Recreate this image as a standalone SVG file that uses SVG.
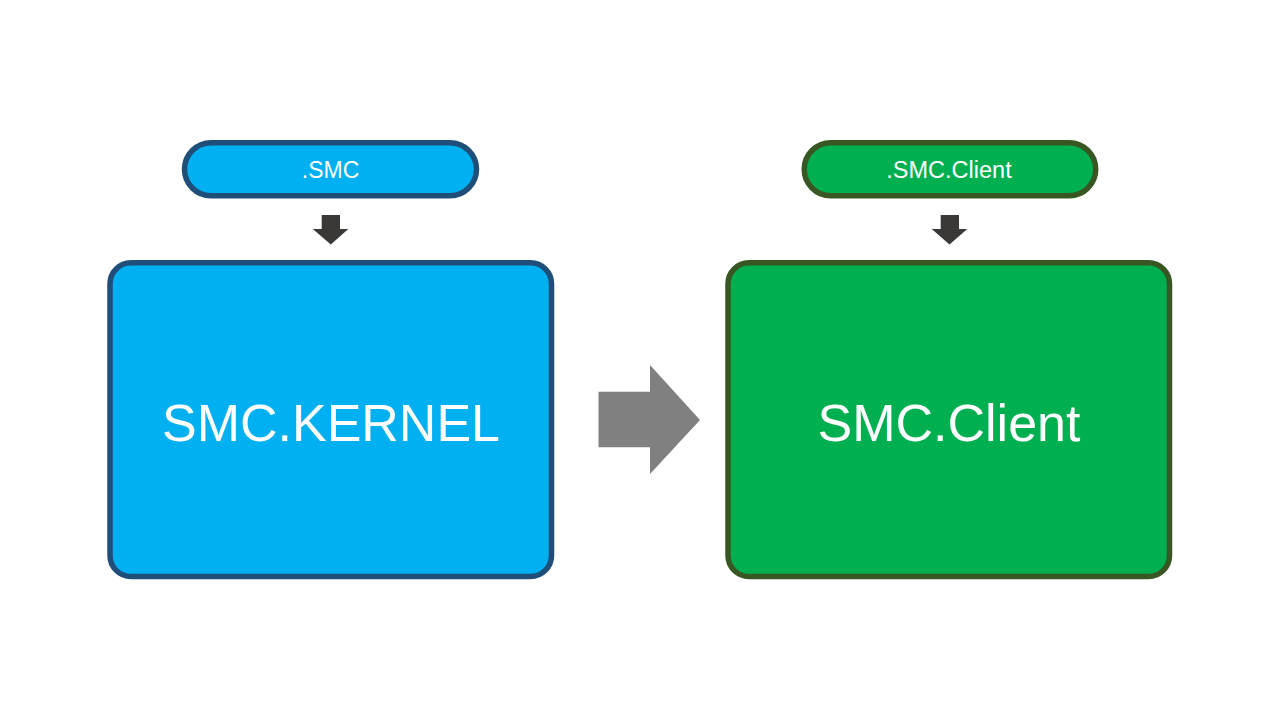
<svg xmlns="http://www.w3.org/2000/svg" width="1280" height="720" viewBox="0 0 1280 720">
<style>
.txt{font-family:"Liberation Sans",Arial,sans-serif;fill:#ffffff;text-anchor:middle}
.blue{fill:#00B0F0;stroke:#1F4E79;stroke-width:5.5}
.green{fill:#00B050;stroke:#385723;stroke-width:5.5}
.down{fill:#3B3838}
</style>
<rect width="1280" height="720" fill="#ffffff"/>
<g id="smc-tag">
<rect class="blue" x="184.5" y="142.7" width="292" height="53" rx="26.5"/>
<text class="txt" x="330.5" y="178.3" font-size="23">.SMC</text>
</g>
<g id="smc-kernel">
<rect class="blue" x="110" y="262.8" width="441.5" height="313.7" rx="21"/>
<text class="txt" x="331" y="440.7" font-size="52">SMC.KERNEL</text>
</g>
<g id="client-tag">
<rect class="green" x="804.2" y="142.7" width="291.5" height="53" rx="26.5"/>
<text class="txt" x="949" y="178.3" font-size="23.5">.SMC.Client</text>
</g>
<g id="smc-client">
<rect class="green" x="728" y="262.8" width="441.5" height="313.7" rx="21"/>
<text class="txt" x="949" y="440.7" font-size="52">SMC.Client</text>
</g>
<g id="connectors">
<polygon class="down" points="321.7,215 340,215 340,229 348.3,229 330.8,244.5 312.8,229 321.7,229"/>
<polygon class="down" points="940.7,215 959,215 959,229 967.3,229 949.5,244.5 931.7,229 940.7,229"/>
<polygon fill="#808080" points="598.5,391.7 650,391.7 650,365 700,420 650,474 650,447.3 598.5,447.3"/>
</g>
</svg>
